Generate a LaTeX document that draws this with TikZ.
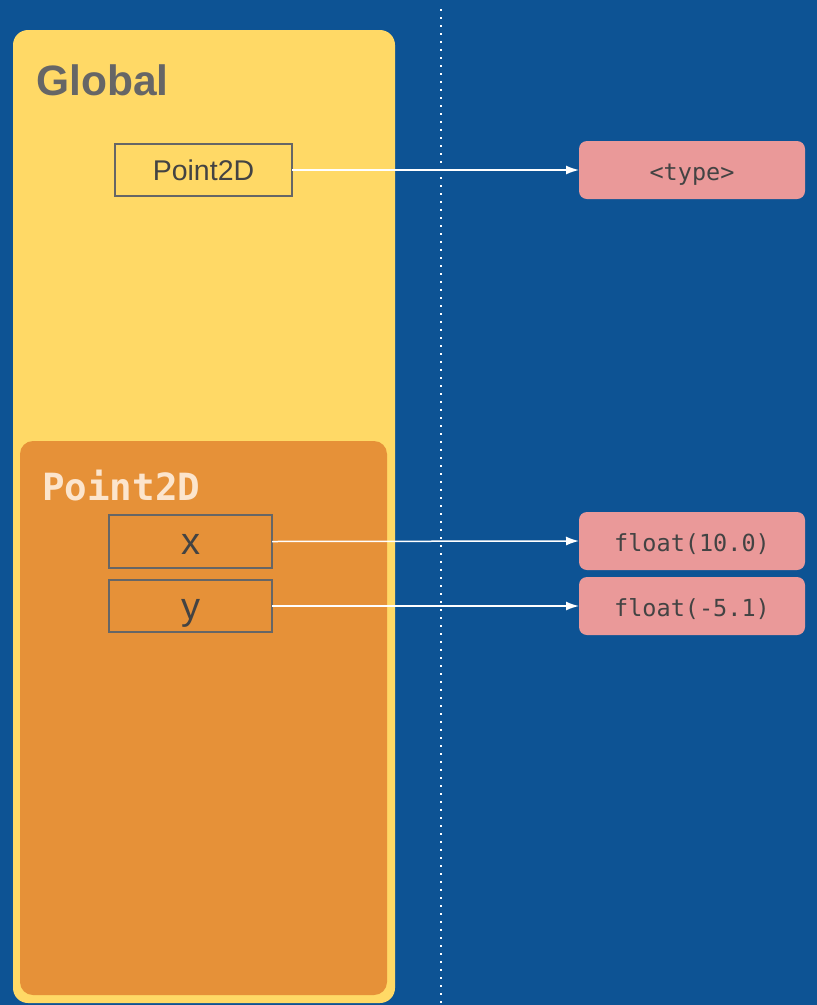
\documentclass[tikz,border=0pt]{standalone}
\usepackage{fontspec}
\setmainfont{Liberation Sans}
\newfontfamily\monofont{DejaVu Sans Mono}
\usetikzlibrary{arrows.meta}
\definecolor{bgblue}{HTML}{0D5394}
\definecolor{yel}{HTML}{FFD966}
\definecolor{ora}{HTML}{E69138}
\definecolor{pink}{HTML}{EA9999}
\definecolor{txt}{HTML}{434343}
\definecolor{lbl}{HTML}{666666}
\definecolor{peach}{HTML}{FCE5CD}
\begin{document}
\begin{tikzpicture}[x=1pt,y=-1pt,
  frame/.style={draw=lbl,line width=1.5pt,inner sep=0pt,outer sep=0pt,anchor=north west,text=txt},
  valbox/.style={fill=pink,rounded corners=8pt,inner sep=0pt,outer sep=0pt,anchor=north west,minimum width=226pt,text=txt,text height=23pt,text depth=3pt,font=\monofont\fontsize{23.5}{28}\selectfont},
  arr/.style={draw=white,line width=1.5pt,-{Latex[length=13pt,width=9pt]}}]
\fill[bgblue] (0,0) rectangle (817,1005);
\useasboundingbox (0,0) rectangle (817,1005);
\draw[white,line width=2.2pt,dash pattern=on 2.2pt off 5.8pt] (441,9) -- (441,1005);
\node[fill=yel,rounded corners=15pt,inner sep=0pt,outer sep=0pt,anchor=north west,minimum width=382pt,minimum height=973pt] (global) at (13,30) {};
\node[fill=ora,rounded corners=13pt,inner sep=0pt,outer sep=0pt,anchor=north west,minimum width=367pt,minimum height=554pt] (scope) at (20,441) {};
\node[anchor=base west,inner sep=0pt,text=lbl,font=\bfseries\fontsize{42.5}{50}\selectfont] (gl) at (36,95) {Global};
\node[anchor=base west,inner sep=0pt,text=peach,font=\monofont\bfseries\fontsize{37.5}{42}\selectfont] (sl) at (42,500) {Point2D};
\node[frame,minimum width=177pt,minimum height=52pt,font=\fontsize{28.5}{32}\selectfont] (p2d) at (115,144) {Point2D};
\node[frame,minimum width=163pt,minimum height=53pt,text height=26pt,text depth=0pt,font=\fontsize{38}{42}\selectfont] (xv) at (109,515) {x};
\node[frame,minimum width=163pt,minimum height=52pt,text height=26pt,text depth=0pt,font=\fontsize{38}{42}\selectfont] (yv) at (109,580) {y};
\node[valbox,minimum height=58pt] (type) at (579,141) {<type>};
\node[valbox,minimum height=58pt] (f1) at (579,512) {float(10.0)};
\node[valbox,minimum height=58pt] (f2) at (579,577) {float(-5.1)};
\draw[arr] (p2d.east) -- (type.west);
\draw[arr] (xv.east) -- (f1.west);
\draw[arr] (yv.east) -- (f2.west);
\end{tikzpicture}
\end{document}
